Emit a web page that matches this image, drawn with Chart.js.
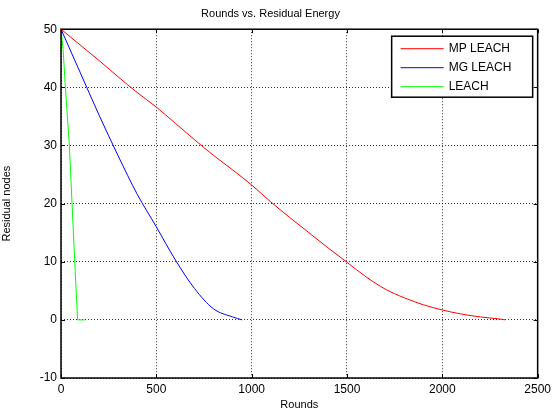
<!DOCTYPE html>
<html>
<head>
<meta charset="utf-8">
<script src="https://cdn.jsdelivr.net/npm/chart.js@4/dist/chart.umd.min.js"></script>
<style>
  html, body { margin: 0; padding: 0; background: #fff; }
  #wrap { width: 555px; height: 414px; }
</style>
</head>
<body>
<div id="wrap"><canvas id="myChart" width="555" height="414"></canvas></div>
<script>
// values
var mpRounds = [0, 100, 200, 300, 400, 500, 600, 700, 800, 900, 1000, 1100, 1200, 1300, 1400, 1500, 1600, 1700, 1800, 1900, 2000, 2100, 2200, 2300, 2330];
var mpEnergy = [50, 47.3, 44.6, 41.8, 39.1, 36.6, 33.8, 31.0, 28.3, 25.8, 23.2, 20.3, 17.6, 15.0, 12.4, 9.9, 7.4, 5.3, 3.8, 2.6, 1.7, 1.0, 0.5, 0.15, 0];
var mgRounds = [0, 100, 200, 300, 400, 500, 600, 700, 800, 900, 950];
var mgEnergy = [50, 42.6, 35.2, 28.2, 21.6, 16.0, 10.3, 5.4, 1.9, 0.5, 0];
var leachRounds = [0, 11, 23, 44, 58, 72, 87, 127];
var leachEnergy = [50, 46.5, 40, 30, 20, 10, 0, 0];
var xTicks = [0, 500, 1000, 1500, 2000, 2500];
var yTicks = [-10, 0, 10, 20, 30, 40, 50];

function pts(xs, ys) {
    return xs.map(function(x, i) { return {x: x, y: ys[i]}; });
}

const FONT = 'Arial, "Liberation Sans", sans-serif';

// MATLAB-like box, inward ticks and legend
const boxPlugin = {
    id: 'boxPlugin',
    afterDraw(chart) {
        const ctx = chart.ctx;
        const a = chart.chartArea;
        const xs = chart.scales.x, ys = chart.scales.y;
        ctx.save();
        ctx.strokeStyle = '#000';
        ctx.lineWidth = 1.5;
        ctx.strokeRect(a.left, a.top, a.right - a.left, a.bottom - a.top);
        ctx.lineWidth = 1;
        xTicks.forEach(function(t) {
            var px = Math.round(xs.getPixelForValue(t)) + 0.5;
            ctx.beginPath();
            ctx.moveTo(px, a.bottom); ctx.lineTo(px, a.bottom - 4);
            ctx.moveTo(px, a.top); ctx.lineTo(px, a.top + 4);
            ctx.stroke();
        });
        yTicks.forEach(function(t) {
            var py = Math.round(ys.getPixelForValue(t)) + 0.5;
            ctx.beginPath();
            ctx.moveTo(a.left, py); ctx.lineTo(a.left + 4, py);
            ctx.moveTo(a.right, py); ctx.lineTo(a.right - 4, py);
            ctx.stroke();
        });
        // legend
        var lx = a.right - 146, ly = a.top + 7, lw = 141, lh = 61;
        ctx.fillStyle = '#fff';
        ctx.fillRect(lx, ly, lw, lh);
        ctx.lineWidth = 1.5;
        ctx.strokeRect(lx, ly, lw, lh);
        ctx.font = '12px ' + FONT;
        ctx.textBaseline = 'middle';
        chart.data.datasets.forEach(function(ds, i) {
            var y = ly + 12.5 + i * 19;
            ctx.strokeStyle = ds.borderColor;
            ctx.lineWidth = 1;
            ctx.beginPath();
            ctx.moveTo(lx + 9, y); ctx.lineTo(lx + 52, y);
            ctx.stroke();
            ctx.fillStyle = '#000';
            ctx.fillText(ds.label, lx + 57, y);
        });
        ctx.restore();
    }
};

const ctx = document.getElementById('myChart').getContext('2d');
const myChart = new Chart(ctx, {
    type: 'scatter',
    data: {
        datasets: [{
            label: 'MP LEACH',
            data: pts(mpRounds, mpEnergy),
            borderColor: '#ff0000',
            showLine: true,
            cubicInterpolationMode: 'monotone',
        }, {
            label: 'MG LEACH',
            data: pts(mgRounds, mgEnergy),
            borderColor: '#0000ff',
            showLine: true,
            cubicInterpolationMode: 'monotone',
        }, {
            label: 'LEACH',
            data: pts(leachRounds, leachEnergy),
            borderColor: '#00ff00',
            showLine: true,
        }]
    },
    options: {
        responsive: false,
        animation: false,
        devicePixelRatio: 1,
        elements: {
            point: { radius: 0, hoverRadius: 0 },
            line: { borderWidth: 1 }
        },
        layout: { padding: { left: 0, right: 14, top: 0, bottom: 0 } },
        scales: {
            x: {
                type: 'linear',
                min: 0, max: 2500,
                afterBuildTicks: function(s) { s.ticks = xTicks.map(function(v) { return {value: v}; }); },
                afterFit: function(s) { s.height = 36; },
                grid: { color: 'rgba(0,0,0,0.8)', drawTicks: false },
                border: { display: false, dash: [1, 2] },
                ticks: {
                    color: '#000', font: { size: 12, family: FONT }, padding: 4, maxRotation: 0,
                    callback: function(v) { return String(v); }
                },
                title: { display: true, text: 'Rounds', color: '#000', font: { size: 11, family: FONT }, padding: { top: 0, bottom: 2 } }
            },
            y: {
                type: 'linear',
                min: -10, max: 50,
                afterBuildTicks: function(s) { s.ticks = yTicks.map(function(v) { return {value: v}; }); },
                afterFit: function(s) { s.width = 61; },
                grid: { color: 'rgba(0,0,0,0.8)', drawTicks: false },
                border: { display: false, dash: [1, 2] },
                ticks: {
                    color: '#000', font: { size: 12, family: FONT }, padding: 4,
                    callback: function(v) { return String(v); }
                },
                title: { display: true, text: 'Residual nodes', color: '#000', font: { size: 11, family: FONT }, padding: { top: 0, bottom: 8 } }
            }
        },
        plugins: {
            legend: { display: false },
            tooltip: { enabled: false },
            title: {
                display: true,
                text: 'Rounds vs. Residual Energy',
                color: '#000',
                font: { size: 11, family: FONT, weight: 'normal' },
                padding: { top: 7, bottom: 9 }
            }
        }
    },
    plugins: [boxPlugin]
});
</script>
</body>
</html>
